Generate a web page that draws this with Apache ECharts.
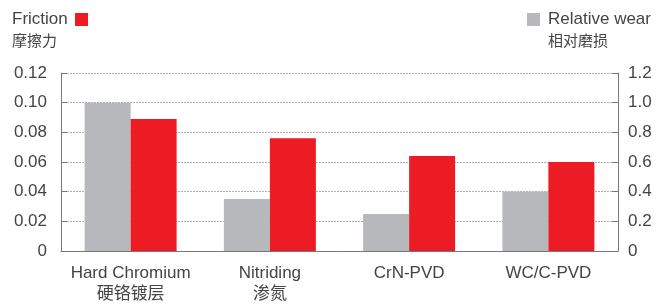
<!DOCTYPE html>
<html>
<head>
<meta charset="utf-8">
<script src="https://cdn.jsdelivr.net/npm/echarts@6/dist/echarts.min.js"></script>
<style>
  html, body { margin: 0; padding: 0; background: #fff; }
  #chart { width: 667px; height: 305px; }
</style>
</head>
<body>
<div id="chart"></div>
<script>
  const CATEGORIES = ['Hard Chromium', 'Nitriding', 'CrN-PVD', 'WC/C-PVD'];
  const CATEGORIES_CN = ['硬铬镀层', '渗氮', '', ''];
  const FRICTION = [0.089, 0.076, 0.064, 0.060];
  const WEAR = [1.0, 0.35, 0.25, 0.40];
  const LEFT_TICKS = ['0', '0.02', '0.04', '0.06', '0.08', '0.10', '0.12'];
  const RIGHT_TICKS = ['0', '0.2', '0.4', '0.6', '0.8', '1.0', '1.2'];

  const FONT = '"Liberation Sans", "Noto Sans CJK SC", sans-serif';
  const TXT = '#444';
  const RED = '#ed1c24';
  const GREY = '#b7b8bb';

  const axisCommon = {
    type: 'value',
    min: 0,
    axisLine: { show: true, lineStyle: { color: '#777', width: 1 } },
    axisTick: { show: true, inside: true, length: 6, lineStyle: { color: '#777' } },
    axisLabel: { color: TXT, fontSize: 17, fontFamily: FONT, margin: 14 }
  };

  const option = {
    backgroundColor: '#fff',
    animation: false,
    grid: { left: 61, right: 49, top: 73, bottom: 51 },
    graphic: [
      { type: 'text', left: 12, top: 11, style: { text: 'Friction', fontSize: 17, fontFamily: FONT, fill: TXT } },
      { type: 'rect', shape: { x: 75, y: 13, width: 13, height: 13 }, style: { fill: RED } },
      { type: 'text', left: 12, top: 34, style: { text: '摩擦力', fontSize: 15, fontFamily: FONT, fill: TXT } },
      { type: 'rect', shape: { x: 527, y: 13, width: 13, height: 13 }, style: { fill: GREY } },
      { type: 'text', left: 548, top: 11, style: { text: 'Relative wear', fontSize: 17, fontFamily: FONT, fill: TXT } },
      { type: 'text', left: 548, top: 34, style: { text: '相对磨损', fontSize: 15, fontFamily: FONT, fill: TXT } }
    ],
    xAxis: {
      type: 'category',
      data: CATEGORIES,
      axisLine: { lineStyle: { color: '#777' } },
      axisTick: { show: false },
      axisLabel: {
        interval: 0,
        color: TXT,
        fontSize: 17,
        fontFamily: FONT,
        margin: 12,
        lineHeight: 21,
        formatter: (v, i) => CATEGORIES_CN[i] ? v + '\n' + CATEGORIES_CN[i] : v
      }
    },
    yAxis: [
      Object.assign({}, axisCommon, {
        position: 'left',
        max: 0.12,
        interval: 0.02,
        axisLabel: Object.assign({}, axisCommon.axisLabel, {
          formatter: (v) => LEFT_TICKS[Math.round(v / 0.02)]
        }),
        splitLine: { show: true, lineStyle: { color: '#b0b0b0', type: [2, 1], width: 1 } }
      }),
      Object.assign({}, axisCommon, {
        position: 'right',
        max: 1.2,
        interval: 0.2,
        axisLabel: Object.assign({}, axisCommon.axisLabel, {
          margin: 10,
          formatter: (v) => RIGHT_TICKS[Math.round(v / 0.2)]
        }),
        splitLine: { show: false }
      })
    ],
    series: [
      {
        name: 'Relative wear',
        type: 'bar',
        yAxisIndex: 1,
        data: WEAR,
        barWidth: 46,
        barGap: '0%',
        itemStyle: { color: GREY }
      },
      {
        name: 'Friction',
        type: 'bar',
        yAxisIndex: 0,
        data: FRICTION,
        barWidth: 46,
        barGap: '0%',
        itemStyle: { color: RED }
      }
    ]
  };

  const chart = echarts.init(document.getElementById('chart'));
  chart.setOption(option);
</script>
</body>
</html>
